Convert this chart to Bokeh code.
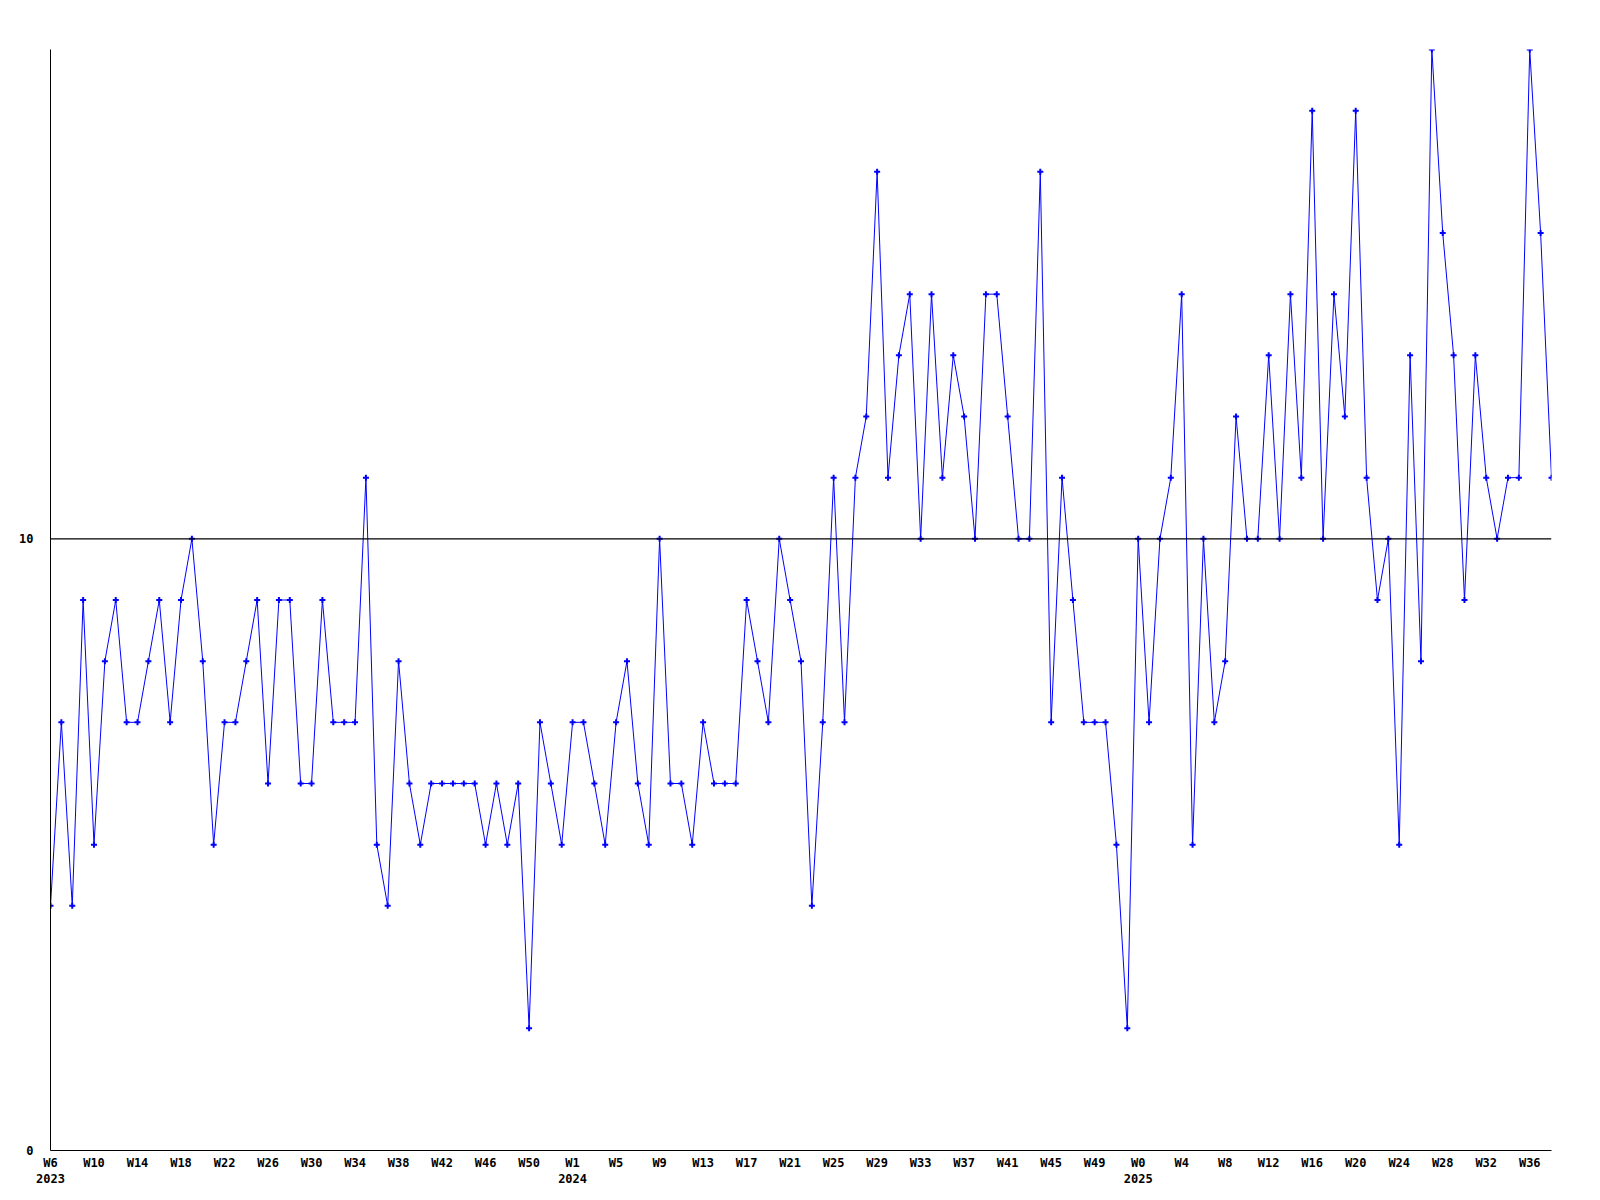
from bokeh.plotting import figure
from bokeh.models import Range1d, Span, FixedTicker
from bokeh.embed import file_html
from bokeh.resources import INLINE

# weekly values, starting W6 2023
values = [4, 7, 4, 9, 5, 8, 9, 7, 7, 8,
          9, 7, 9, 10, 8, 5, 7, 7, 8, 9,
          6, 9, 9, 6, 6, 9, 7, 7, 7, 11,
          5, 4, 8, 6, 5, 6, 6, 6, 6, 6,
          5, 6, 5, 6, 2, 7, 6, 5, 7, 7,
          6, 5, 7, 8, 6, 5, 10, 6, 6, 5,
          7, 6, 6, 6, 9, 8, 7, 10, 9, 8,
          4, 7, 11, 7, 11, 12, 16, 11, 13, 14,
          10, 14, 11, 13, 12, 10, 14, 14, 12, 10,
          10, 16, 7, 11, 9, 7, 7, 7, 5, 2,
          10, 7, 10, 11, 14, 5, 10, 7, 8, 12,
          10, 10, 13, 10, 14, 11, 17, 10, 14, 12,
          17, 11, 9, 10, 5, 13, 8, 18, 15, 13,
          9, 13, 11, 10, 11, 11, 18, 15, 11]

# tick labels, one every 4 weeks
week_labels = ["W6", "W10", "W14", "W18", "W22", "W26", "W30", "W34", "W38", "W42", "W46", "W50",
               "W1", "W5", "W9", "W13", "W17", "W21", "W25", "W29", "W33", "W37", "W41", "W45", "W49",
               "W0", "W4", "W8", "W12", "W16", "W20", "W24", "W28", "W32", "W36"]
year_labels = {"W6": "2023", "W1": "2024", "W0": "2025"}
y_ticks = [0, 10]
reference_level = 10

x = list(range(len(values)))
tick_idx = list(range(0, len(values), 4))[:len(week_labels)]

overrides = {}
for i, lab in zip(tick_idx, week_labels):
    if lab in year_labels:
        overrides[i] = lab + "\n" + year_labels[lab]
    else:
        overrides[i] = lab

p = figure(width=1592, height=1192, output_backend="svg", toolbar_location=None,
           x_range=Range1d(0, len(values) - 1), y_range=Range1d(0, 18),
           min_border_left=50, min_border_right=41, min_border_top=49, min_border_bottom=42)
p.outline_line_color = None
p.xgrid.visible = False
p.ygrid.visible = False
p.background_fill_color = "white"
p.border_fill_color = "white"

p.add_layout(Span(location=reference_level, dimension="width", line_color="black", line_width=1.2))

p.line(x, values, line_color="#0000FF", line_width=1)
p.scatter(x, values, marker="cross", size=6, line_color="#0000FF", line_width=2)

for ax in (p.xaxis[0], p.yaxis[0]):
    ax.axis_line_color = "black"
    ax.axis_line_width = 1
    ax.major_tick_line_color = None
    ax.minor_tick_line_color = None
    ax.major_tick_out = 0
    ax.major_tick_in = 0
    ax.major_label_text_font = "DejaVu Sans Mono"
    ax.major_label_text_font_style = "bold"
    ax.major_label_text_font_size = "12px"
    ax.major_label_text_color = "black"

p.xaxis.ticker = FixedTicker(ticks=tick_idx)
p.xaxis.major_label_overrides = overrides
p.xaxis.major_label_standoff = 5

p.yaxis.ticker = FixedTicker(ticks=y_ticks)
p.yaxis.major_label_overrides = {t: str(t) for t in y_ticks}
p.yaxis.major_label_standoff = 17

open("out.html", "w").write(file_html(p, INLINE))
